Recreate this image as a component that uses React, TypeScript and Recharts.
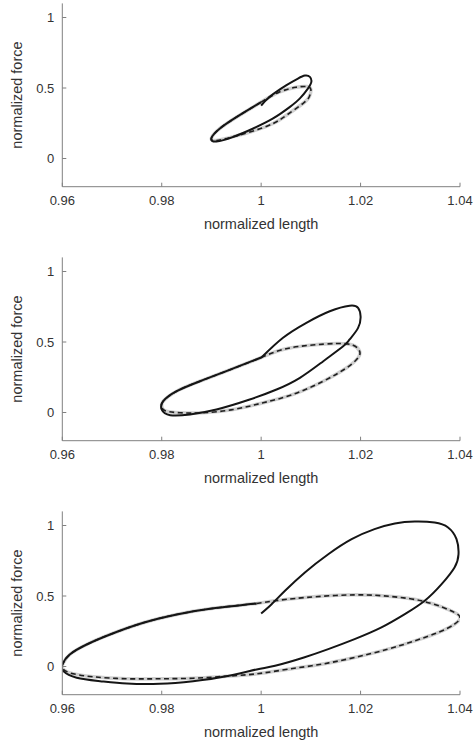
import React from 'react';
import { LineChart, Line, XAxis, YAxis } from 'recharts';

type Pt = [number, number]; // [normalized length, normalized force]

const xTicks = [0.96, 0.98, 1, 1.02, 1.04];
const yTicks = [0, 0.5, 1];

// top panel
const solidA: Pt[] = [
  [1.0, 0.375], [1.0017, 0.437], [1.0051, 0.52], [1.0074, 0.567], [1.0088, 0.588],
  [1.0098, 0.579], [1.0101, 0.543], [1.0094, 0.496], [1.0078, 0.426], [1.0058, 0.366],
  [1.0024, 0.284], [0.9984, 0.213], [0.9944, 0.153], [0.991, 0.12], [0.99, 0.145],
  [0.9917, 0.213], [0.9951, 0.295], [0.9984, 0.366], [1.0, 0.4],
];
const dashedA: Pt[] = [
  [1.0, 0.4], [1.0036, 0.47], [1.007, 0.505], [1.0092, 0.51], [1.01, 0.49],
  [1.0097, 0.44], [1.0084, 0.39], [1.0051, 0.307], [1.0024, 0.248], [0.9984, 0.195],
  [0.9944, 0.155], [0.991, 0.128], [0.99, 0.145], [0.9917, 0.213], [0.9951, 0.295],
  [0.9984, 0.366], [1.0, 0.4],
];

// middle panel
const solidB: Pt[] = [
  [1.0, 0.388], [1.0044, 0.53], [1.0091, 0.636], [1.0138, 0.718], [1.0178, 0.757],
  [1.0195, 0.742], [1.02, 0.683], [1.0195, 0.6], [1.0178, 0.518], [1.0165, 0.47],
  [1.0125, 0.364], [1.0078, 0.246], [1.0031, 0.163], [0.9977, 0.092],
  [0.991, 0.021], [0.9857, -0.014], [0.9817, -0.019], [0.98, 0.021], [0.9803, 0.08],
  [0.983, 0.151], [0.9877, 0.222], [0.993, 0.293], [1.0, 0.39],
];
const dashedB: Pt[] = [
  [1.0, 0.39], [1.0044, 0.447], [1.0098, 0.477], [1.0152, 0.489], [1.0185, 0.477],
  [1.0198, 0.435], [1.0195, 0.388], [1.0172, 0.317], [1.0125, 0.222], [1.0064, 0.128],
  [1.0004, 0.069], [0.9944, 0.021], [0.9883, -0.002], [0.9837, -0.002], [0.9806, 0.014],
  [0.98, 0.045], [0.9803, 0.08], [0.983, 0.151], [0.9877, 0.222], [0.993, 0.293],
  [1.0, 0.39],
];

// bottom panel
const solidC: Pt[] = [
  [1.0, 0.376], [1.0021, 0.442], [1.0048, 0.537], [1.0088, 0.667], [1.0135, 0.796],
  [1.0182, 0.903], [1.0228, 0.974], [1.0269, 1.014], [1.0309, 1.028], [1.0349, 1.021],
  [1.0376, 0.986], [1.0393, 0.903], [1.0397, 0.796], [1.0389, 0.702], [1.0363, 0.584],
  [1.0329, 0.466], [1.0289, 0.371], [1.0242, 0.277], [1.0188, 0.194], [1.0135, 0.123],
  [1.0086, 0.064], [1.0028, 0.005], [0.9991, -0.021], [0.993, -0.069], [0.9863, -0.104],
  [0.9796, -0.123], [0.973, -0.121], [0.9676, -0.104], [0.9629, -0.08], [0.9602, -0.033],
  [0.96, 0.014], [0.9615, 0.085], [0.9649, 0.156], [0.9696, 0.227], [0.9763, 0.31],
  [0.983, 0.369], [0.9897, 0.409], [0.9991, 0.447],
];
const dashedC: Pt[] = [
  [0.9991, 0.447], [1.0028, 0.466], [1.0088, 0.489], [1.0188, 0.508], [1.0269, 0.494],
  [1.0322, 0.466], [1.0363, 0.423], [1.0389, 0.383], [1.04, 0.348], [1.0389, 0.3],
  [1.0356, 0.241], [1.0309, 0.182], [1.0255, 0.123], [1.0188, 0.064], [1.0121, 0.016],
  [1.0054, -0.019], [0.9991, -0.052], [0.993, -0.069], [0.9863, -0.083], [0.9796, -0.087],
  [0.973, -0.087], [0.9662, -0.073], [0.9615, -0.045], [0.96, -0.01], [0.9602, 0.025],
  [0.9615, 0.085], [0.9649, 0.156], [0.9696, 0.227], [0.9763, 0.31], [0.983, 0.369],
  [0.9897, 0.409], [0.9991, 0.447],
];

const rows = (pts: Pt[]) => pts.map(([l, f]) => ({ l, f }));

const AXIS = '#808080';
const TXT = '#333';
const FONT = '"Liberation Sans", Arial, Helvetica, sans-serif';
const PLOT_H = 183.3;
const TOP = 3.4;

const pageCss = `
html, body { margin: 0; padding: 0; overflow: hidden; background: #fff; }
.recharts-wrapper, .recharts-surface { overflow: visible !important; }
`;

function XLabel({ viewBox }: any) {
  const { x, y, width } = viewBox;
  return (
    <text x={x + width / 2} y={y + 42} textAnchor="middle" fontSize={14.5} fill={TXT} fontFamily={FONT}>
      normalized length
    </text>
  );
}

function YLabel({ viewBox }: any) {
  const cy = viewBox.y + viewBox.height / 2;
  return (
    <text x={22} y={cy} transform={`rotate(-90, 22, ${cy})`} textAnchor="middle" fontSize={14.5} fill={TXT} fontFamily={FONT}>
      normalized force
    </text>
  );
}

function Panel({ solid, dashed, height }: { solid: Pt[]; dashed: Pt[]; height: number }) {
  const tick = { fill: TXT, fontSize: 13, fontFamily: FONT };
  return (
    <LineChart width={474} height={height} margin={{ top: TOP, right: 14, bottom: 0, left: 0 }}>
      <XAxis
        xAxisId="b" dataKey="l" type="number" domain={[0.96, 1.04]} ticks={xTicks} interval={0}
        allowDataOverflow height={height - TOP - PLOT_H} stroke={AXIS} tickSize={-4} tickMargin={13}
        tick={tick} label={<XLabel />}
      />
      <XAxis
        xAxisId="t" orientation="top" dataKey="l" type="number" domain={[0.96, 1.04]} ticks={xTicks}
        allowDataOverflow height={0} stroke={AXIS} tickSize={-4} tick={false}
      />
      <YAxis
        yAxisId="l" dataKey="f" type="number" domain={[-0.2, 1.1]} ticks={yTicks} interval={0}
        allowDataOverflow width={62.3} stroke={AXIS} tickSize={-4} tickMargin={12}
        tick={tick} label={<YLabel />}
      />
      <YAxis
        yAxisId="r" orientation="right" dataKey="f" type="number" domain={[-0.2, 1.1]} ticks={yTicks}
        allowDataOverflow width={0} stroke={AXIS} tickSize={-4} tick={false}
      />
      <Line xAxisId="b" yAxisId="l" data={rows(dashed)} dataKey="f" type="natural" stroke="#cfcfcf"
        strokeWidth={3.5} dot={false} activeDot={false} isAnimationActive={false} />
      <Line xAxisId="b" yAxisId="l" data={rows(dashed)} dataKey="f" type="natural" stroke="#1f1f1f"
        strokeWidth={1.6} strokeDasharray="5 3.5" dot={false} activeDot={false} isAnimationActive={false} />
      <Line xAxisId="b" yAxisId="l" data={rows(solid)} dataKey="f" type="natural" stroke="#151515"
        strokeWidth={2} dot={false} activeDot={false} isAnimationActive={false} />
    </LineChart>
  );
}

export default function App() {
  return (
    <div style={{ width: 474, height: 746, background: '#fff' }}>
      <style>{pageCss}</style>
      <Panel solid={solidA} dashed={dashedA} height={254} />
      <Panel solid={solidB} dashed={dashedB} height={254} />
      <Panel solid={solidC} dashed={dashedC} height={238} />
    </div>
  );
}
